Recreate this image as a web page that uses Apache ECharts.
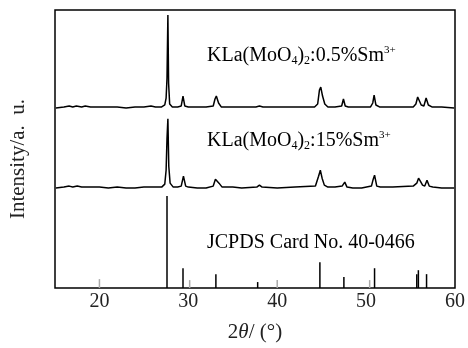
<!DOCTYPE html>
<html>
<head>
<meta charset="utf-8">
<script src="https://cdn.jsdelivr.net/npm/echarts@6/dist/echarts.min.js"></script>
<style>
  html, body { margin: 0; padding: 0; background: #fff; }
  #chart { width: 468px; height: 348px; }
</style>
</head>
<body>
<div id="chart"></div>
<script>
// 2theta / intensity (intensity in plot pixels above each baseline)
const theta05 = [15.1, 16, 16.6, 17, 17.4, 18, 18.4, 19, 20, 21, 22, 23, 24, 25, 25.8, 26.3, 27, 27.35, 27.5, 27.6, 27.7, 27.78, 27.9, 28.2, 28.8, 29.2, 29.4, 29.6, 30, 31, 32, 32.8, 33.0, 33.15, 33.4, 33.7, 35, 36, 37.6, 38, 38.4, 40, 42, 44.2, 44.55, 44.75, 44.9, 45.1, 45.35, 45.7, 46.5, 47.25, 47.45, 47.65, 48, 49, 50.5, 50.75, 50.9, 51.1, 51.5, 53, 55.3, 55.6, 55.8, 56.0, 56.2, 56.5, 56.75, 57.0, 57.4, 58.5, 59.9];
const int05 = [0, 1, 2, 1, 2, 1, 2, 1, 1, 1, 1, 0, 1, 1, 2, 1, 1, 3, 10, 30, 94, 25, 4, 1, 1, 2, 12, 2, 1, 1, 1, 2, 9, 12, 5, 1, 1, 1, 1, 2, 1, 1, 1, 1, 4, 18, 21, 12, 4, 1, 1, 2, 9, 2, 1, 1, 1, 5, 13, 3, 1, 1, 1, 4, 11, 9, 3, 2, 10, 3, 1, 1, 0];

const theta15 = [15.1, 16, 16.6, 17, 17.5, 18, 18.5, 19, 20, 21, 22, 23, 24, 25, 26, 27, 27.35, 27.5, 27.6, 27.7, 27.8, 27.95, 28.3, 28.8, 29.2, 29.45, 29.7, 30, 31, 32, 32.8, 33.05, 33.2, 33.45, 33.8, 35, 36, 37.7, 38, 38.3, 40, 42, 44.3, 44.65, 44.85, 45.05, 45.3, 45.7, 46.5, 47.3, 47.6, 47.85, 48.5, 49.5, 50.6, 50.8, 50.95, 51.2, 51.6, 53, 55.3, 55.7, 55.9, 56.1, 56.35, 56.6, 56.85, 57.1, 57.5, 58.5, 59.9];
const int15 = [0, 1, 2, 1, 2, 1, 1, 1, 1, 0, 1, 0, 0, 1, 1, 1, 4, 18, 50, 70, 22, 5, 1, 1, 2, 12, 2, 1, 0, 0, 2, 9, 10, 5, 1, 1, 0, 1, 3, 1, 0, 1, 2, 12, 18, 10, 3, 1, 1, 2, 6, 1, 0, 0, 2, 9, 13, 2, 1, 1, 2, 5, 10, 7, 3, 2, 8, 2, 1, 0, 0];

// JCPDS 40-0466 reference lines
const refTheta = [27.6, 29.4, 33.1, 37.8, 44.8, 47.5, 50.95, 55.7, 55.88, 56.8];
const refInt = [93, 20, 14, 6, 26, 11, 20, 14, 18, 14];
const refWeakTheta = [20.0, 30.15, 40.0, 50.4];
const refWeakInt = [9, 8, 8, 8];

const offset05 = 182;
const offset15 = 101;
const xTicks = [20, 30, 40, 50, 60];

const serif = '"Liberation Serif", "DejaVu Serif", serif';

function shifted(xs, ys, off) {
  return xs.map((x, i) => [x, ys[i] + off]);
}
function pairs(xs, ys) {
  return xs.map((x, i) => [x, ys[i]]);
}

const chart = echarts.init(document.getElementById('chart'));

const labelRich = {
  a: { fontFamily: serif, fontSize: 20, color: '#222', lineHeight: 22 },
  s: { fontFamily: serif, fontSize: 12, color: '#222', verticalAlign: 'bottom', lineHeight: 22 },
  p: { fontFamily: serif, fontSize: 11, color: '#222', verticalAlign: 'top', lineHeight: 22 }
};

chart.setOption({
  backgroundColor: '#fff',
  animation: false,
  grid: {
    left: 54, right: 11, top: 10, bottom: 57,
    show: true, borderColor: '#000', borderWidth: 1.5
  },
  xAxis: {
    type: 'value',
    min: 15, max: 60, interval: 5,
    axisLine: { show: false },
    axisTick: { show: false },
    splitLine: { show: false },
    axisLabel: {
      fontFamily: serif, fontSize: 20, color: '#222', margin: 4,
      formatter: v => xTicks.indexOf(v) >= 0 ? String(v) : ''
    },
    name: '{a|2}{i|θ}{a|/ (°)}',
    nameLocation: 'middle',
    nameGap: 34,
    nameTextStyle: {
      rich: {
        a: { fontFamily: serif, fontSize: 21, color: '#222' },
        i: { fontFamily: serif, fontSize: 21, color: '#222', fontStyle: 'italic' }
      }
    }
  },
  yAxis: {
    type: 'value',
    min: 0, max: 281,
    axisLine: { show: false },
    axisTick: { show: false },
    axisLabel: { show: false },
    splitLine: { show: false },
    name: 'Intensity/a.  u.',
    nameLocation: 'middle',
    nameGap: 26,
    nameTextStyle: { fontFamily: serif, fontSize: 21, color: '#222', padding: [0, 20, 0, 0] }
  },
  series: [
    {
      type: 'line', data: shifted(theta05, int05, offset05),
      symbol: 'none', lineStyle: { color: '#000', width: 1.5 }
    },
    {
      type: 'line', data: shifted(theta15, int15, offset15),
      symbol: 'none', lineStyle: { color: '#000', width: 1.5 }
    },
    {
      type: 'bar', data: pairs(refTheta, refInt), barWidth: 1.5, barGap: '-100%',
      itemStyle: { color: '#000' }
    },
    {
      type: 'bar', data: pairs(refWeakTheta, refWeakInt), barWidth: 1.5, barGap: '-100%',
      itemStyle: { color: '#aaa' }
    }
  ],
  graphic: [
    {
      type: 'text', left: 207, top: 45,
      style: { text: '{a|KLa(MoO}{s|4}{a|)}{s|2}{a|:0.5%Sm}{p|3+}', rich: labelRich }
    },
    {
      type: 'text', left: 207, top: 130,
      style: { text: '{a|KLa(MoO}{s|4}{a|)}{s|2}{a|:15%Sm}{p|3+}', rich: labelRich }
    },
    {
      type: 'text', left: 207, top: 233,
      style: { text: '{a|JCPDS Card No. 40-0466}', rich: labelRich }
    }
  ]
});
</script>
</body>
</html>
